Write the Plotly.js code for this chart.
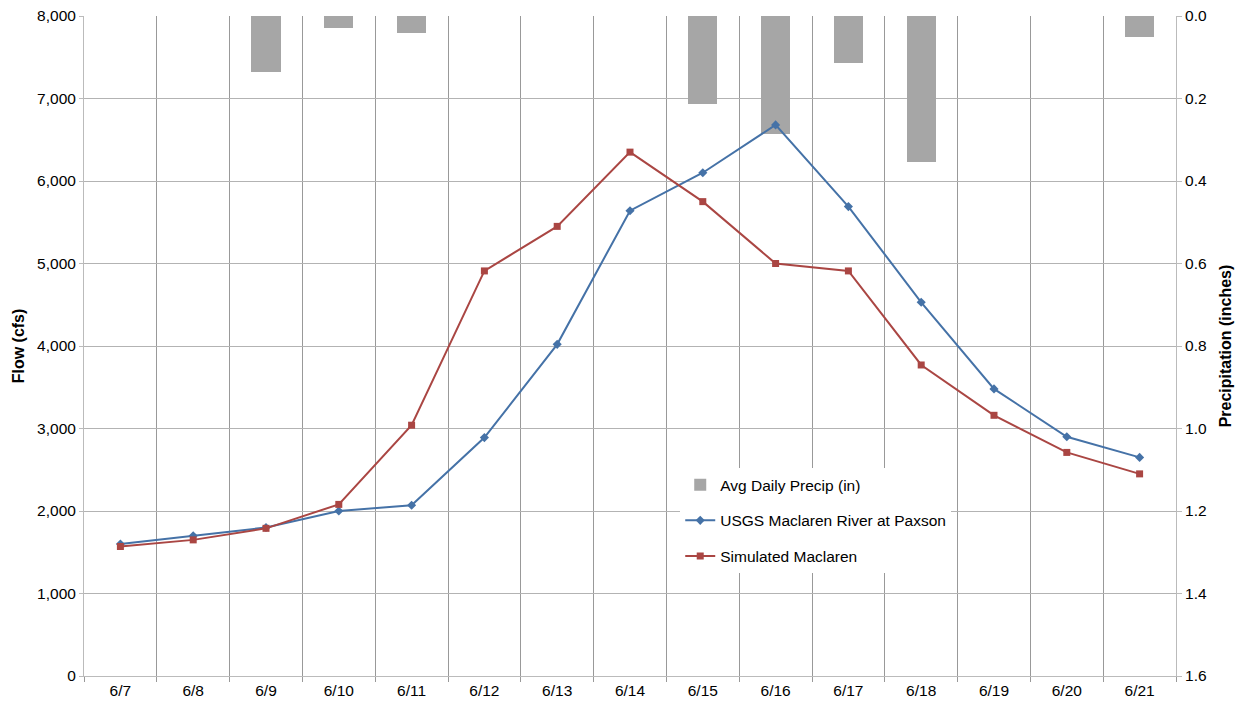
<!DOCTYPE html>
<html>
<head>
<meta charset="utf-8">
<script src="https://cdn.plot.ly/plotly-3.0.1.min.js"></script>
<style>html,body{margin:0;padding:0;background:#fff;}#chart{width:1243px;height:704px;}</style>
</head>
<body>
<div id="chart"></div>
<script>
const dates = ["6/7","6/8","6/9","6/10","6/11","6/12","6/13","6/14","6/15","6/16","6/17","6/18","6/19","6/20","6/21"];
const precip = [0, 0, 0.136, 0.029, 0.041, 0, 0, 0, 0.214, 0.286, 0.115, 0.355, 0, 0, 0.050];
const usgs = [1600, 1700, 1800, 2000, 2070, 2890, 4020, 5640, 6100, 6680, 5690, 4530, 3480, 2900, 2650];
const simulated = [1570, 1650, 1790, 2080, 3040, 4910, 5450, 6350, 5750, 5000, 4910, 3770, 3160, 2710, 2450];

const FONT = "Liberation Sans, Arial, sans-serif";
const FS = 15.5;
const traces = [
  {type:'bar', x:dates, y:precip, yaxis:'y', name:'Avg Daily Precip (in)',
   marker:{color:'#A6A6A6'}, width:0.4, base:0, legendgroup:'a'},
  {type:'scatter', mode:'lines+markers', x:dates, y:usgs, yaxis:'y2', name:'USGS Maclaren River at Paxson',
   line:{color:'#4572A7', width:2}, marker:{symbol:'diamond', size:7, color:'#4572A7'}, legendgroup:'b'},
  {type:'scatter', mode:'lines+markers', x:dates, y:simulated, yaxis:'y2', name:'Simulated Maclaren',
   line:{color:'#AA4643', width:2}, marker:{symbol:'square', size:7, color:'#AA4643'}, legendgroup:'c'}
];
const layout = {
  width:1243, height:704,
  margin:{l:84, r:67, t:16, b:28},
  paper_bgcolor:'#fff', plot_bgcolor:'#fff',
  font:{family:FONT, size:FS, color:'#000'},
  showlegend:true,
  legend:{x:0.546, y:0.315, xanchor:'left', yanchor:'top', bgcolor:'#fff',
          traceorder:'grouped', tracegroupgap:12.5, font:{family:FONT, size:FS, color:'#000'}},
  bargap:0,
  xaxis:{type:'category', tickson:'boundaries', ticks:'outside', ticklen:5, tickcolor:'#999',
         showgrid:true, gridcolor:'#999', gridwidth:1, showline:true, linecolor:'#bbb',
         tickfont:{size:FS}, range:[-0.5,14.5]},
  yaxis:{side:'right', range:[1.6,0], dtick:0.2, tickformat:'.1f', showgrid:true, gridcolor:'#b3b3b3',
         showline:true, linecolor:'#bbb', ticks:'outside', ticklen:5, tickcolor:'#bbb',
         zeroline:false, tickfont:{size:FS},
         title:{text:'<b>Precipitation (inches)</b>', font:{size:16}, standoff:13}},
  yaxis2:{overlaying:'y', side:'left', range:[0,8000], dtick:1000, tickformat:',d', showgrid:false,
          showline:true, linecolor:'#bbb', ticks:'outside', ticklen:4, tickcolor:'#bbb',
          zeroline:false, tickfont:{size:FS},
          title:{text:'<b>Flow (cfs)</b>', font:{size:16}, standoff:8}}
};
Plotly.newPlot('chart', traces, layout, {displayModeBar:false, staticPlot:true});
</script>
</body>
</html>
